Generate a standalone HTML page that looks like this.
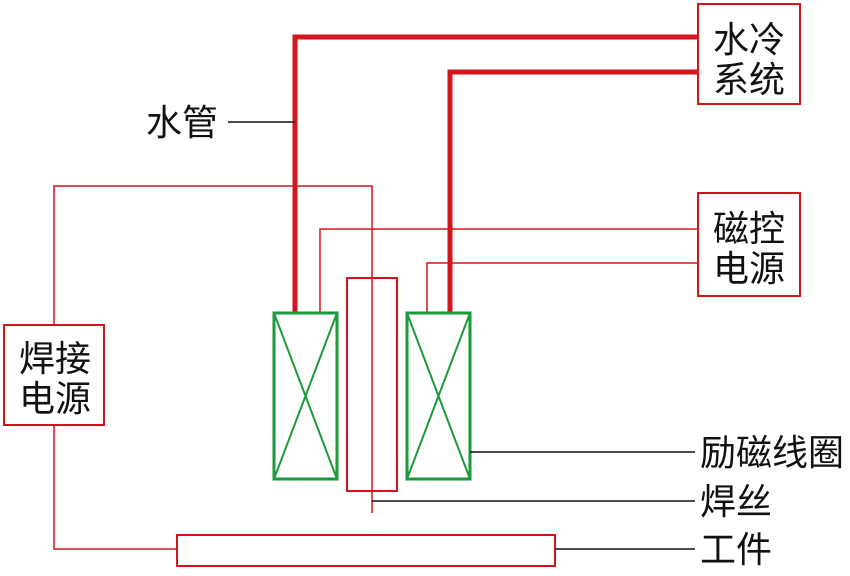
<!DOCTYPE html>
<html><head><meta charset="utf-8"><style>
body{margin:0;background:#fff;}
svg text{font-family:"Liberation Sans","Noto Sans CJK SC",sans-serif;font-size:36px;fill:#111;}
</style></head><body>
<svg width="850" height="571" xmlns="http://www.w3.org/2000/svg">
<g fill="none">
<polyline points="295,313 295,37 698,37" stroke="#d7141e" stroke-width="5"/>
<polyline points="450,313 450,72 698,72" stroke="#d7141e" stroke-width="5"/>
<polyline points="320,313 320,229 698,229" stroke="#d7141e" stroke-width="1.5"/>
<polyline points="427,313 427,263 698,263" stroke="#d7141e" stroke-width="1.5"/>
<polyline points="54,325 54,186 372,186 372,513" stroke="#d7141e" stroke-width="1.5"/>
<polyline points="54,425 54,549 177,549" stroke="#d7141e" stroke-width="1.5"/>
<rect x="698" y="4" width="102" height="100" stroke="#d7141e" stroke-width="2"/>
<rect x="698" y="193" width="102" height="103" stroke="#d7141e" stroke-width="2"/>
<rect x="4" y="325" width="100" height="100" stroke="#d7141e" stroke-width="2"/>
<rect x="347" y="278" width="50" height="213" stroke="#d7141e" stroke-width="2"/>
<rect x="177" y="535" width="378" height="31" stroke="#d7141e" stroke-width="2"/>
<rect x="274" y="313" width="63" height="166" stroke="#1a9a3a" stroke-width="3"/>
<line x1="274" y1="313" x2="337" y2="479" stroke="#1a9a3a" stroke-width="2"/>
<line x1="337" y1="313" x2="274" y2="479" stroke="#1a9a3a" stroke-width="2"/>
<rect x="407" y="313" width="63" height="166" stroke="#1a9a3a" stroke-width="3"/>
<line x1="407" y1="313" x2="470" y2="479" stroke="#1a9a3a" stroke-width="2"/>
<line x1="470" y1="313" x2="407" y2="479" stroke="#1a9a3a" stroke-width="2"/>
<line x1="228" y1="122" x2="295" y2="122" stroke="#111" stroke-width="1.5"/>
<line x1="470" y1="452" x2="695" y2="452" stroke="#111" stroke-width="1.5"/>
<line x1="372" y1="501" x2="695" y2="501" stroke="#111" stroke-width="1.5"/>
<line x1="555" y1="549" x2="695" y2="549" stroke="#111" stroke-width="1.5"/>
</g>
<text x="713" y="52">水冷</text>
<text x="713" y="92">系统</text>
<text x="713" y="241">磁控</text>
<text x="713" y="281">电源</text>
<text x="19" y="371">焊接</text>
<text x="19" y="411">电源</text>
<text x="146" y="135">水管</text>
<text x="700" y="465">励磁线圈</text>
<text x="700" y="514">焊丝</text>
<text x="700" y="562">工件</text>
</svg>
</body></html>
